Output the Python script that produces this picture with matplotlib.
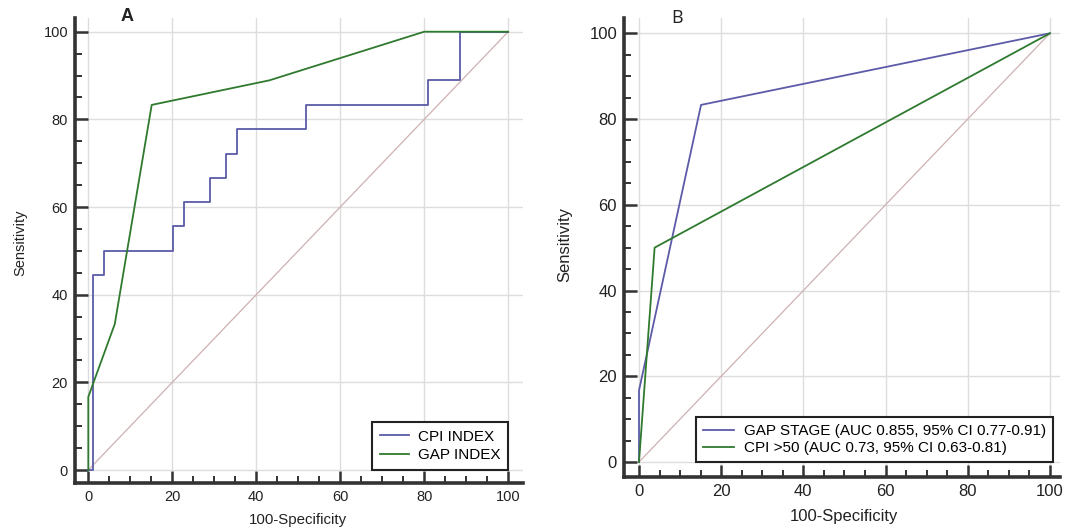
import numpy as np
import matplotlib
matplotlib.use('Agg')
import matplotlib.pyplot as plt
from matplotlib.ticker import MultipleLocator

plt.rcParams['font.family'] = ['Liberation Sans', 'DejaVu Sans']

# panel A data
cpi_x = [0, 1.0, 1.0, 3.7, 3.7, 20.2, 20.2, 22.8, 22.8, 29.1, 29.1, 32.9, 32.9,
         35.4, 35.4, 51.9, 51.9, 81.0, 81.0, 88.6, 88.6, 100]
cpi_y = [0, 0, 44.4, 44.4, 50.0, 50.0, 55.6, 55.6, 61.1, 61.1, 66.7, 66.7, 72.2,
         72.2, 77.8, 77.8, 83.3, 83.3, 88.9, 88.9, 100, 100]
gapi_x = [0, 0, 6.3, 15.1, 43.1, 80.0, 100]
gapi_y = [0, 16.7, 33.3, 83.3, 88.9, 100, 100]

# panel B data
gaps_x = [0, 0, 15.1, 100]
gaps_y = [0, 16.7, 83.3, 100]
cpi50_x = [0, 3.8, 100]
cpi50_y = [0, 50.0, 100]

blue = '#5b5ba8'
green = '#2f7a2f'
diag = '#cfb0b0'
spine_c = '#333333'
txt_c = '#222222'
W, H = 1078, 531


def style(ax, xlim, ylim, fs):
    ax.set_xlim(*xlim)
    ax.set_ylim(*ylim)
    for s in ['top', 'right']:
        ax.spines[s].set_visible(False)
    for s in ['left', 'bottom']:
        ax.spines[s].set_linewidth(2.6)
        ax.spines[s].set_color(spine_c)
    ax.xaxis.set_major_locator(MultipleLocator(20))
    ax.yaxis.set_major_locator(MultipleLocator(20))
    ax.xaxis.set_minor_locator(MultipleLocator(5))
    ax.yaxis.set_minor_locator(MultipleLocator(5))
    ax.tick_params(which='major', direction='in', length=9, width=1.8, color=spine_c,
                   labelsize=fs, pad=5, labelcolor=txt_c)
    ax.tick_params(which='minor', direction='in', length=5, width=1.4, color=spine_c)
    ax.grid(True, which='major', color='#dddddd', linewidth=1.0)
    ax.set_axisbelow(True)
    ax.plot([0, 100], [0, 100], color=diag, linewidth=0.9, zorder=1)


fig = plt.figure(figsize=(W / 100, H / 100), dpi=100)

# panel A
axA = fig.add_axes([75 / W, 1 - 483.3 / H, 448.3 / W, 465 / H])
style(axA, (-3.17, 103.6), (-3.03, 103.06), 10.5)
axA.plot(cpi_x, cpi_y, color=blue, linewidth=1.3, label='CPI INDEX', zorder=3)
axA.plot(gapi_x, gapi_y, color=green, linewidth=1.3, label='GAP INDEX', zorder=3)
legA = axA.legend(loc='lower right', bbox_to_anchor=(0.9666, 0.0286), borderaxespad=0,
                  fontsize=11, fancybox=False, framealpha=1, edgecolor=txt_c,
                  handlelength=1.9, handletextpad=0.6, borderpad=0.5, labelspacing=0.3)
legA.get_frame().set_linewidth(1.5)
legA.set_zorder(5)
fig.text(20 / W, 1 - 243 / H, 'Sensitivity', rotation=90, fontsize=10.5,
         ha='center', va='center', color=txt_c)
fig.text(298 / W, 1 - 520 / H, '100-Specificity', fontsize=10.8,
         ha='center', va='center', color=txt_c)
fig.text(126.7 / W, 1 - 16.7 / H, 'A', fontsize=13, fontweight='bold',
         ha='center', va='center', color=txt_c)

# panel B
axB = fig.add_axes([624 / W, 1 - 477.3 / H, 435.8 / W, 459 / H])
style(axB, (-3.65, 102.4), (-3.57, 103.5), 12)
axB.plot(gaps_x, gaps_y, color=blue, linewidth=1.3,
         label='GAP STAGE (AUC 0.855, 95% CI 0.77-0.91)', zorder=3)
axB.plot(cpi50_x, cpi50_y, color=green, linewidth=1.3,
         label='CPI >50 (AUC 0.73, 95% CI 0.63-0.81)', zorder=3)
legB = axB.legend(loc='lower right', bbox_to_anchor=(0.985, 0.0337), borderaxespad=0,
                  fontsize=11, fancybox=False, framealpha=1, edgecolor=txt_c,
                  handlelength=2.0, handletextpad=0.7, borderpad=0.45, labelspacing=0.2)
legB.get_frame().set_linewidth(1.5)
legB.set_zorder(5)
fig.text(565 / W, 1 - 245 / H, 'Sensitivity', rotation=90, fontsize=12,
         ha='center', va='center', color=txt_c)
fig.text(844 / W, 1 - 517 / H, '100-Specificity', fontsize=12,
         ha='center', va='center', color=txt_c)
fig.text(676.7 / W, 1 - 18.3 / H, 'B', fontsize=13, family=['Open Sans', 'DejaVu Sans'],
         ha='center', va='center', color=txt_c)

plt.savefig('out.png', dpi=100)
